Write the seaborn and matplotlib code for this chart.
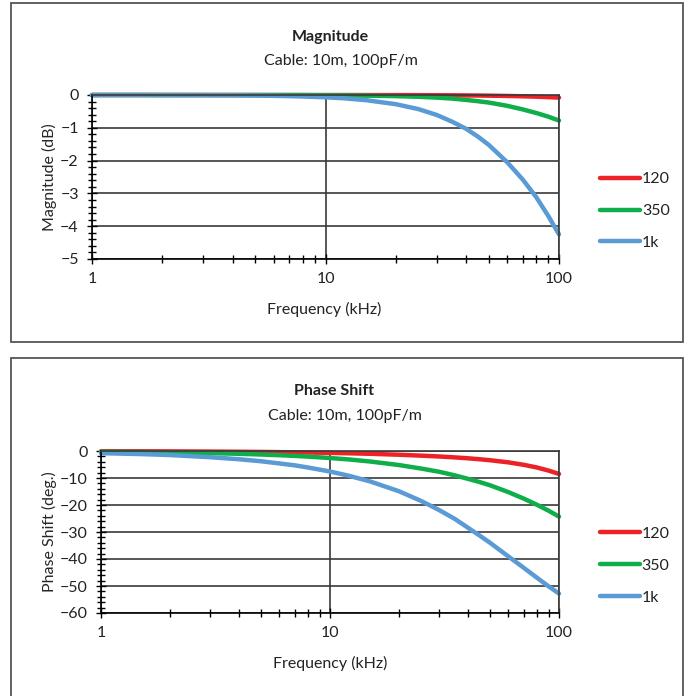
import numpy as np
import pandas as pd
import matplotlib
matplotlib.use("Agg")
import matplotlib.pyplot as plt
import seaborn as sns
from matplotlib.patches import Rectangle
from matplotlib.ticker import MultipleLocator, FixedLocator, FixedFormatter, NullFormatter, LogLocator

freq = [1, 1.5, 2, 3, 4, 5, 6, 7, 8, 10, 12, 15, 20, 25, 30, 35, 40, 45, 50, 60, 70, 80, 90, 100]

cables = ["120", "350", "1k"]

mag_120 = [0, 0, 0, 0, 0, 0, 0, 0, 0, -0.001, -0.001, -0.002, -0.003, -0.005, -0.007, -0.01,
           -0.013, -0.016, -0.02, -0.029, -0.039, -0.051, -0.065, -0.08]
mag_350 = [0, 0, 0, 0, -0.001, -0.002, -0.003, -0.004, -0.005, -0.01, -0.013, -0.02, -0.035, -0.055,
           -0.08, -0.11, -0.15, -0.19, -0.23, -0.33, -0.44, -0.55, -0.66, -0.78]
mag_1k = [0, 0, -0.003, -0.006, -0.01, -0.018, -0.026, -0.035, -0.046, -0.07, -0.1, -0.16,
          -0.28, -0.43, -0.61, -0.82, -1.03, -1.27, -1.52, -2.05, -2.58, -3.12, -3.69, -4.25]

ph_120 = [-0.07, -0.1, -0.14, -0.21, -0.28, -0.35, -0.42, -0.49, -0.56, -0.7, -0.84, -1.04,
          -1.38, -1.72, -2.03, -2.36, -2.7, -3.05, -3.42, -4.2, -5.1, -6.1, -7.25, -8.5]
ph_350 = [-0.26, -0.39, -0.52, -0.78, -1.04, -1.3, -1.56, -1.81, -2.07, -2.6, -3.1, -3.9,
          -5.2, -6.5, -7.7, -9.0, -10.3, -11.5, -12.7, -15.2, -17.6, -19.9, -22.1, -24.3]
ph_1k = [-0.8, -1.15, -1.5, -2.3, -3.05, -3.8, -4.6, -5.3, -6.1, -7.6, -9.1, -11.3,
         -14.9, -18.5, -21.9, -25.1, -28.4, -31.3, -34.0, -39.0, -43.2, -46.9, -50.1, -52.8]

palette = {"120": "#ec2227", "350": "#0fae4b", "1k": "#5b9bd5"}

df = pd.DataFrame({
    "freq": freq * 3,
    "cable": [c for c in cables for _ in freq],
    "mag": mag_120 + mag_350 + mag_1k,
    "phase": ph_120 + ph_350 + ph_1k,
})

sns.set_style("white")
plt.rcParams["font.family"] = ["Lato", "DejaVu Sans"]
plt.rcParams["font.size"] = 11.5
plt.rcParams["text.color"] = "#222222"

W, H = 688, 696
fig = plt.figure(figsize=(W / 100, H / 100), dpi=100)


def px_axes(l, t, r, b):
    return fig.add_axes([l / W, 1 - b / H, (r - l) / W, (b - t) / H])


def style_axes(ax, ymin, ymax, ymaj, ymin_step, ylabel, label_x, legend_y):
    ax.set_xscale("log")
    ax.set_xlim(1, 100)
    ax.set_ylim(ymin, ymax)
    ax.yaxis.set_major_locator(MultipleLocator(ymaj))
    ax.yaxis.set_minor_locator(MultipleLocator(ymin_step))
    ax.xaxis.set_major_locator(FixedLocator([1, 10, 100]))
    ax.xaxis.set_major_formatter(FixedFormatter(["1", "10", "100"]))
    ax.xaxis.set_minor_locator(LogLocator(base=10, subs=np.arange(2, 10)))
    ax.xaxis.set_minor_formatter(NullFormatter())
    ax.tick_params(which="both", direction="inout", color="black", labelsize=11.5,
                   labelcolor="#222222", width=1.0, bottom=True, left=True)
    ax.tick_params(which="major", length=7, pad=6)
    ax.tick_params(which="minor", length=6)
    ax.grid(True, which="major", color="#3a3a3a", lw=1.2)
    for s in ["left", "bottom"]:
        ax.spines[s].set_color("black")
        ax.spines[s].set_linewidth(1.2)
    for s in ["top", "right"]:
        ax.spines[s].set_color("#3a3a3a")
        ax.spines[s].set_linewidth(1.2)
    ax.set_xlabel("")
    ax.set_ylabel(ylabel, fontsize=11.5)
    ax.yaxis.set_label_coords(label_x, 0.5)
    handles, labels = ax.get_legend_handles_labels()
    ax.legend(handles, labels, loc="upper left", bbox_to_anchor=(1.075, legend_y),
              frameon=False, fontsize=11.5, handlelength=2.5, handletextpad=0.1,
              labelspacing=1.1, borderaxespad=0)
    for line in ax.get_legend().get_lines():
        line.set_linewidth(3.2)
        line.set_solid_capstyle("round")


# ---- Magnitude panel ----
ax1 = px_axes(92, 95, 559, 259)
sns.lineplot(data=df, x="freq", y="mag", hue="cable", palette=palette, hue_order=cables,
             lw=3.2, ax=ax1, clip_on=False, solid_capstyle="round")
style_axes(ax1, -5, 0, 1, 0.2, "Magnitude (dB)", -0.075, 0.568)

# ---- Phase panel ----
ax2 = px_axes(101, 451, 559, 613)
sns.lineplot(data=df, x="freq", y="phase", hue="cable", palette=palette, hue_order=cables,
             lw=3.2, ax=ax2, clip_on=False, solid_capstyle="round")
style_axes(ax2, -60, 0, 10, 2, "Phase Shift (deg.)", -0.096, 0.571)


def ftext(x, y, s, **kw):
    fig.text(x / W, 1 - y / H, s, ha="center", va="center", fontsize=11.5, **kw)


ftext(330, 37, "Magnitude", fontweight="bold")
ftext(341, 61, "Cable: 10m, 100pF/m")
ftext(324, 309, "Frequency (kHz)")
ftext(334, 391, "Phase Shift", fontweight="bold")
ftext(345, 416, "Cable: 10m, 100pF/m")
ftext(330, 663, "Frequency (kHz)")

# panel frames
for top, bot in [(3, 342), (358, 700)]:
    fig.add_artist(Rectangle((11 / W, 1 - bot / H), (683 - 11) / W, (bot - top) / H,
                             transform=fig.transFigure, fill=False, ec="#555555", lw=1.3))

fig.savefig("out.png", dpi=100)
